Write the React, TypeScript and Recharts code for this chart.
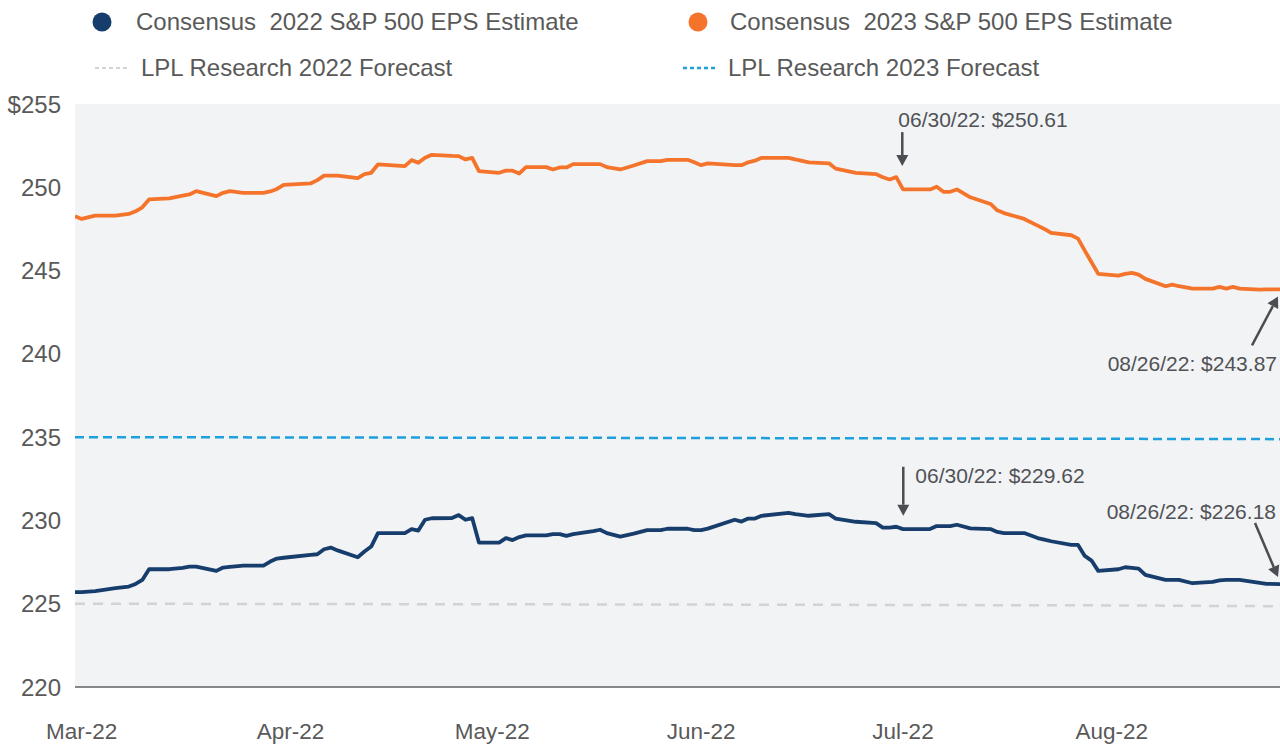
import React from 'react';
import { LineChart, Line, XAxis, YAxis, CartesianGrid, ReferenceDot } from 'recharts';

// ---- data ----
const DATES = [
  '02/28', '03/01', '03/03', '03/06', '03/08', '03/09', '03/10', '03/11', '03/14', '03/16',
  '03/17', '03/18', '03/21', '03/22', '03/23', '03/25', '03/28', '03/29', '03/30', '03/31',
  '04/04', '04/05', '04/06', '04/07', '04/08', '04/11', '04/12', '04/13', '04/14', '04/18',
  '04/19', '04/20', '04/21', '04/22', '04/25', '04/26', '04/27', '04/28', '04/29', '05/02',
  '05/03', '05/04', '05/05', '05/06', '05/09', '05/10', '05/11', '05/12', '05/13', '05/16',
  '05/17', '05/18', '05/20', '05/22', '05/24', '05/26', '05/27', '05/30', '05/31', '06/01',
  '06/02', '06/06', '06/07', '06/08', '06/09', '06/10', '06/14', '06/15', '06/17', '06/20',
  '06/21', '06/24', '06/27', '06/28', '06/29', '06/30', '07/01', '07/05', '07/06', '07/07',
  '07/08', '07/09', '07/11', '07/14', '07/15', '07/16', '07/19', '07/21', '07/22', '07/23',
  '07/26', '07/27', '07/28', '07/29', '07/30', '08/02', '08/03', '08/04', '08/05', '08/06',
  '08/09', '08/10', '08/11', '08/13', '08/16', '08/17', '08/18', '08/19', '08/20', '08/23',
  '08/24', '08/26',
];

const EPS_2023 = [
  248.26, 248.1, 248.3, 248.3, 248.4, 248.56, 248.8, 249.27, 249.33, 249.5,
  249.57, 249.77, 249.47, 249.67, 249.77, 249.67, 249.67, 249.75, 249.9, 250.15,
  250.23, 250.43, 250.7, 250.7, 250.7, 250.55, 250.79, 250.87, 251.37, 251.27,
  251.63, 251.47, 251.77, 251.95, 251.88, 251.87, 251.67, 251.77, 250.97, 250.87,
  251.0, 251.0, 250.83, 251.21, 251.21, 251.07, 251.19, 251.19, 251.39, 251.39,
  251.39, 251.21, 251.07, 251.31, 251.57, 251.57, 251.65, 251.65, 251.5, 251.33,
  251.43, 251.33, 251.33, 251.5, 251.6, 251.77, 251.77, 251.67, 251.5, 251.44,
  251.12, 250.87, 250.79, 250.6, 250.47, 250.61, 249.87, 249.87, 250.03, 249.73,
  249.73, 249.87, 249.4, 249.0, 248.62, 248.45, 248.1, 247.7, 247.5, 247.26,
  247.12, 246.92, 246.2, 245.5, 244.8, 244.7, 244.8, 244.86, 244.76, 244.5,
  244.06, 244.16, 244.06, 243.92, 243.92, 244.02, 243.92, 244.02, 243.92, 243.86,
  243.87, 243.87,
];

const EPS_2022 = [
  225.69, 225.69, 225.75, 225.93, 226.03, 226.19, 226.43, 227.07, 227.07, 227.15,
  227.23, 227.23, 226.97, 227.17, 227.21, 227.29, 227.29, 227.53, 227.71, 227.76,
  227.93, 227.97, 228.27, 228.37, 228.2, 227.79, 228.13, 228.43, 229.24, 229.24,
  229.48, 229.39, 230.04, 230.13, 230.14, 230.32, 230.04, 230.14, 228.67, 228.67,
  228.94, 228.82, 229.0, 229.1, 229.1, 229.18, 229.18, 229.07, 229.18, 229.36,
  229.44, 229.24, 229.03, 229.21, 229.42, 229.42, 229.5, 229.5, 229.42, 229.42,
  229.51, 230.04, 229.93, 230.11, 230.11, 230.28, 230.46, 230.38, 230.28, 230.38,
  230.11, 229.92, 229.84, 229.57, 229.57, 229.62, 229.48, 229.48, 229.66, 229.66,
  229.66, 229.74, 229.52, 229.48, 229.31, 229.24, 229.24, 228.94, 228.85, 228.75,
  228.53, 228.53, 227.87, 227.59, 226.97, 227.07, 227.19, 227.15, 227.11, 226.73,
  226.43, 226.43, 226.43, 226.23, 226.31, 226.4, 226.43, 226.43, 226.43, 226.25,
  226.19, 226.18,
];

const FORECAST_DATES = ['02/28', '05/31', '07/31', '08/26'];
const LPL_2022 = [225.0, 224.95, 224.9, 224.85];
const LPL_2023 = [235.0, 234.95, 234.9, 234.88];

const MONTH_TICK_DATES = ['03/01', '04/01', '05/01', '06/01', '07/01', '08/01'];
const MONTH_LABELS = ['Mar-22', 'Apr-22', 'May-22', 'Jun-22', 'Jul-22', 'Aug-22'];
const Y_TICKS = [220, 225, 230, 235, 240, 245, 250, 255];

const SERIES_NAMES = [
  'Consensus  2022 S&P 500 EPS Estimate',
  'Consensus  2023 S&P 500 EPS Estimate',
  'LPL Research 2022 Forecast',
  'LPL Research 2023 Forecast',
];

const ANNOTATION_DATES = ['06/30', '06/30', '08/26', '08/26'];
const ANNOTATION_SERIES = ['eps2023', 'eps2022', 'eps2023', 'eps2022'];

// ---- styles ----
const COLORS = {
  navy: '#173d6c',
  orange: '#f5742b',
  lplGray: '#d2d3d5',
  lplBlue: '#1f9fdb',
  text: '#595959',
  arrow: '#4a4d52',
  plotBg: '#f2f3f5',
};
const FONT = '"Liberation Sans", Arial, sans-serif';

// arrow geometry relative to the annotated point (style only)
const ANNOTATION_STYLE = [
  { tail: [6, -45], tip: [6, -11], text: [2, -58], anchor: 'start' },
  { tail: [7, -60], tip: [7, -11], text: [19, -51], anchor: 'start' },
  { tail: [-28, 56], tip: [-2, 7], text: [-3, 74], anchor: 'end' },
  { tail: [-25, -61], tip: [-2, -7], text: [-4, -73], anchor: 'end' },
];

const dayOf = (s: string) => {
  const [m, d] = s.split('/').map(Number);
  return Math.round((Date.UTC(2022, m - 1, d) - Date.UTC(2022, 2, 1)) / 86400000);
};

const consensus = DATES.map((d, i) => ({ day: dayOf(d), eps2022: EPS_2022[i], eps2023: EPS_2023[i] }));
const forecast2022 = FORECAST_DATES.map((d, i) => ({ day: dayOf(d), lpl2022: LPL_2022[i] }));
const forecast2023 = FORECAST_DATES.map((d, i) => ({ day: dayOf(d), lpl2023: LPL_2023[i] }));
const tickDays = MONTH_TICK_DATES.map(dayOf);
const tickLabel: Record<number, string> = {};
tickDays.forEach((d, i) => (tickLabel[d] = MONTH_LABELS[i]));

const annotations = ANNOTATION_DATES.map((d, i) => {
  const row = consensus.find((r) => r.day === dayOf(d))!;
  const value = (row as any)[ANNOTATION_SERIES[i]] as number;
  return { day: row.day, value, label: `${d}/22: $${value.toFixed(2)}` };
});

const makeArrowShape = (idx: number, label: string) => (props: any) => {
  const { cx, cy } = props;
  const st = ANNOTATION_STYLE[idx];
  const x1 = cx + st.tail[0];
  const y1 = cy + st.tail[1];
  const x2 = cx + st.tip[0];
  const y2 = cy + st.tip[1];
  const dx = x2 - x1;
  const dy = y2 - y1;
  const len = Math.sqrt(dx * dx + dy * dy);
  const ux = dx / len;
  const uy = dy / len;
  const head = 11;
  const half = 6;
  const bx = x2 - ux * head;
  const by = y2 - uy * head;
  const pts = `${x2},${y2} ${bx - uy * half},${by + ux * half} ${bx + uy * half},${by - ux * half}`;
  return (
    <g>
      <line x1={x1} y1={y1} x2={bx} y2={by} stroke={COLORS.arrow} strokeWidth={2.5} />
      <polygon points={pts} fill={COLORS.arrow} />
      <text
        x={cx + st.text[0]}
        y={cy + st.text[1]}
        textAnchor={st.anchor}
        dominantBaseline="central"
        fontFamily={FONT}
        fontSize={21}
        fill="#505256"
      >
        {label}
      </text>
    </g>
  );
};

const legendText: React.CSSProperties = {
  position: 'absolute',
  fontFamily: FONT,
  fontSize: 24,
  color: COLORS.text,
  whiteSpace: 'pre',
  lineHeight: '28px',
};

const LegendOverlay = () => (
  <div style={{ position: 'absolute', left: 0, top: 0, width: 1280, height: 92 }}>
    <svg width={1280} height={92} style={{ position: 'absolute', left: 0, top: 0 }}>
      <circle cx={102} cy={22} r={9.5} fill={COLORS.navy} />
      <circle cx={698} cy={22} r={9.5} fill={COLORS.orange} />
      <line x1={95} x2={127} y1={68} y2={68} stroke={COLORS.lplGray} strokeWidth={2} strokeDasharray="4 3" />
      <line x1={683} x2={715} y1={68} y2={68} stroke={COLORS.lplBlue} strokeWidth={2.5} strokeDasharray="4 3" />
    </svg>
    <div style={{ ...legendText, left: 136, top: 8 }}>{SERIES_NAMES[0]}</div>
    <div style={{ ...legendText, left: 730, top: 8 }}>{SERIES_NAMES[1]}</div>
    <div style={{ ...legendText, left: 141, top: 54 }}>{SERIES_NAMES[2]}</div>
    <div style={{ ...legendText, left: 728, top: 54 }}>{SERIES_NAMES[3]}</div>
  </div>
);

export default function App() {
  return (
    <div style={{ position: 'absolute', left: 0, top: 0, width: 1280, height: 745, background: '#fff' }}>
      <LineChart
        width={1280}
        height={745}
        data={consensus}
        margin={{ top: 104, right: 0, bottom: 0, left: 0 }}
      >
        <CartesianGrid horizontal={false} vertical={false} fill={COLORS.plotBg} stroke="none" />
        <XAxis
          dataKey="day"
          type="number"
          domain={[-1, 178]}
          ticks={tickDays}
          interval={0}
          height={58}
          tickFormatter={(v: number) => tickLabel[v] ?? ''}
          axisLine={{ stroke: '#5f6163', strokeWidth: 1.5 }}
          tickLine={false}
          tickMargin={30}
          tick={{ fill: COLORS.text, fontSize: 22.5, fontFamily: FONT }}
          allowDataOverflow
        />
        <YAxis
          type="number"
          domain={[220, 255]}
          ticks={Y_TICKS}
          interval={0}
          width={75}
          axisLine={false}
          tickLine={false}
          tickMargin={8}
          tickFormatter={(v: number) => (v === 255 ? `$${v}` : `${v}`)}
          tick={{ fill: COLORS.text, fontSize: 24, fontFamily: FONT }}
          allowDataOverflow
        />
        <Line
          data={forecast2022}
          dataKey="lpl2022"
          name={SERIES_NAMES[2]}
          stroke={COLORS.lplGray}
          strokeWidth={2.5}
          strokeDasharray="10 8"
          dot={false}
          isAnimationActive={false}
        />
        <Line
          data={forecast2023}
          dataKey="lpl2023"
          name={SERIES_NAMES[3]}
          stroke={COLORS.lplBlue}
          strokeWidth={2.5}
          strokeDasharray="9 5"
          dot={false}
          isAnimationActive={false}
        />
        <Line
          dataKey="eps2022"
          name={SERIES_NAMES[0]}
          stroke={COLORS.navy}
          strokeWidth={3.8}
          dot={false}
          strokeLinejoin="round"
          isAnimationActive={false}
        />
        <Line
          dataKey="eps2023"
          name={SERIES_NAMES[1]}
          stroke={COLORS.orange}
          strokeWidth={3.8}
          dot={false}
          strokeLinejoin="round"
          isAnimationActive={false}
        />
        {annotations.map((a, i) => (
          <ReferenceDot
            key={i}
            x={a.day}
            y={a.value}
            r={0}
            ifOverflow="visible"
            shape={makeArrowShape(i, a.label)}
          />
        ))}
      </LineChart>
      <LegendOverlay />
    </div>
  );
}
